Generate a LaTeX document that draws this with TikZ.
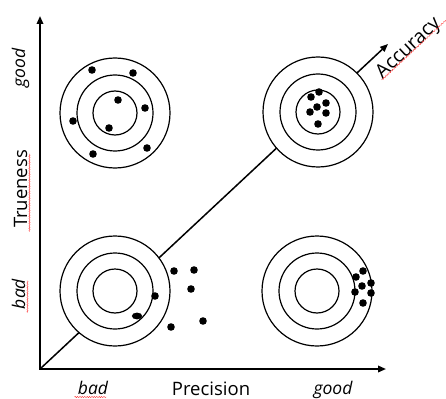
\documentclass[tikz,border=0pt]{standalone}
\usepackage{fontspec}
\setmainfont{Open Sans}
\usetikzlibrary{arrows.meta,decorations.pathmorphing}
\begin{document}
\begin{tikzpicture}[x=1pt,y=-1pt,
  axis/.style={line width=1.8pt,-{Triangle[length=8pt,width=6.5pt]}},
  diag/.style={line width=1.5pt,-{Triangle[length=8pt,width=6.5pt]}},
  target/.style={circle,draw,fill=white,line width=1.2pt,minimum size=110pt,inner sep=0pt},
  ring/.style={line width=1.2pt},
  lbl/.style={font=\fontsize{18.5}{22}\selectfont,anchor=base},
  ilbl/.style={font=\fontsize{17.5}{22}\selectfont\itshape,anchor=base},
  squig/.style={red!80,line width=0.4pt,decorate,decoration={snake,amplitude=0.6pt,segment length=2.4pt}}]
\useasboundingbox (0,0) rectangle (446,398);
\coordinate (O) at (40,369);
\coordinate (ytop) at (40,16);
\coordinate (xend) at (386,369);
\coordinate (aend) at (388,44);
% axes
\draw[diag] (O) -- (aend);
\draw[axis,line cap=rect] (O) -- (ytop);
\draw[axis,line cap=rect] (O) -- (xend);
% targets
\node[target] (tl) at (115,113) {};
\node[target] (tr) at (318,112) {};
\node[target] (bl) at (115,291) {};
\node[target] (br) at (317,291) {};
\foreach \t in {tl,tr,bl,br}{
  \draw[ring] (\t) circle (38);
  \draw[ring] (\t) circle (22);
}
% dots top-left
\foreach \p in {(92,70),(133,73),(118,100),(145,108),(73,121),(109,128),(93,154),(147,148)}
  \fill \p circle (3.8);
% dots top-right
\foreach \p in {(319,92),(311,97),(326,103),(317,107),(310,112),(326,113),(318,124)}
  \fill \p circle (3.8);
% dots bottom-left
\foreach \p in {(174,271),(194,270),(191,289),(155,296),(171,327),(203,321)}
  \fill \p circle (3.8);
\fill (137,316) ellipse (5.2 and 3.4);
% dots bottom-right
\foreach \p in {(363,271),(356,277),(371,283),(362,286),(355,292),(371,293),(363,303)}
  \fill \p circle (3.8);
% labels
\node[lbl] (prec) at (211,395) {Precision};
\node[ilbl] (xbad) at (93,394) {bad};
\node[ilbl] (xgood) at (333,394) {good};
\node[lbl,rotate=90] (true) at (27,189) {Trueness};
\node[ilbl,rotate=90] (ygood) at (25,68) {good};
\node[ilbl,rotate=90] (ybad) at (25,294) {bad};
\node[lbl,font=\fontsize{19.5}{22}\selectfont,rotate=43,anchor=base] (acc) at (412,52) {Accuracy};
% spell-check squiggles
\draw[squig] (xbad.base west) ++(0,3) -- ++(32,0);
\draw[squig] (true.base west) ++(2.5,0) -- ++(0,-78);
\draw[squig] (ybad.base west) ++(2.5,0) -- ++(0,-32);
\draw[squig] ([shift={(-47:2.5)}]acc.base west) -- ([shift={(-47:2.5)}]acc.base east);
\end{tikzpicture}
\end{document}
